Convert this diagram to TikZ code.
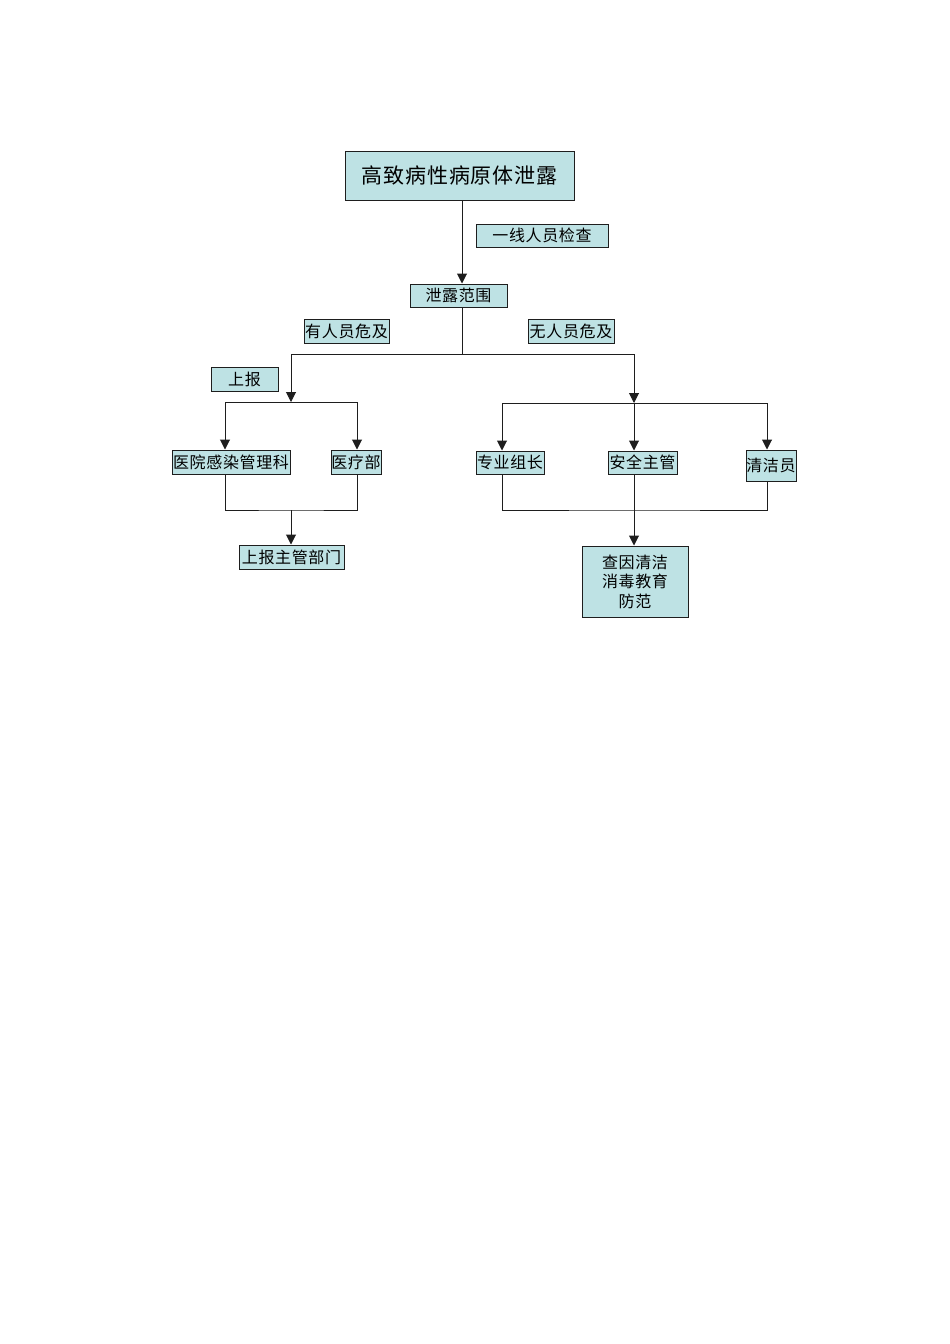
\documentclass[tikz,border=0pt]{standalone}
\usepackage{fontspec}
\usepackage{xcolor}
\usepackage{tikz}
\usetikzlibrary{arrows.meta,positioning}
\newfontfamily\cjk[LetterSpace=4]{Noto Sans CJK SC}
\definecolor{boxc}{RGB}{190,226,228}
\definecolor{linec}{RGB}{30,30,30}
\tikzset{
  box/.style={draw=linec,fill=boxc,line width=1pt,inner sep=0pt,anchor=center,
    font=\cjk\fontsize{16}{19.5}\selectfont,align=center},
  arr/.style={->,line width=1pt,draw=linec},
  ln/.style={line width=1pt,draw=linec}
}

\begin{document}
\begin{tikzpicture}[x=1pt,y=-1pt,>={Triangle[width=10pt,length=10pt]}]
\useasboundingbox (0,0) rectangle (950,1344);
% boxes
\node[box,minimum width=229pt,minimum height=49pt,font=\cjk\fontsize{21}{24}\selectfont] (title) at (459.5,175.5) {高致病性病原体泄露};
\node[box,minimum width=132pt,minimum height=23pt] (check) at (542,235.5) {一线人员检查};
\node[box,minimum width=97pt,minimum height=23pt] (scope) at (458.5,295.5) {泄露范围};
\node[box,minimum width=85pt,minimum height=24pt] (yes) at (346.5,331.5) {有人员危及};
\node[box,minimum width=86pt,minimum height=24pt] (no) at (571,331.5) {无人员危及};
\node[box,minimum width=67pt,minimum height=24pt] (report) at (244.5,379) {上报};
\node[box,minimum width=118pt,minimum height=24pt] (infect) at (231,462) {医院感染管理科};
\node[box,minimum width=50pt,minimum height=24pt] (medic) at (356,462) {医疗部};
\node[box,minimum width=105pt,minimum height=24pt] (dept) at (291.5,557) {上报主管部门};
\node[box,minimum width=68pt,minimum height=23pt] (leader) at (510,462.5) {专业组长};
\node[box,minimum width=69pt,minimum height=23pt] (safety) at (642.5,462.5) {安全主管};
\node[box,minimum width=50pt,minimum height=31pt] (cleaner) at (771,465.5) {清洁员};
\node[box,minimum width=106pt,minimum height=71pt] (action) at (635,581.5) {查因清洁\\消毒教育\\防范};
% junctions
\coordinate (split) at (462,354);
\coordinate (lsplit) at (291,354);
\coordinate (rsplit) at (634,354);
\coordinate (lbar) at (291,402);
\coordinate (lbarL) at (225,402);
\coordinate (lbarR) at (357,402);
\coordinate (ljoin) at (291,510);
\coordinate (rbar) at (634,403);
\coordinate (rbarL) at (502,403);
\coordinate (rbarR) at (767,403);
\coordinate (rjoin) at (634,510);
% top trunk
\draw[arr] (title.south -| split) -- (scope.north -| split);
\draw[ln] (scope.south -| split) -- (split);
\draw[ln] (lsplit) -- (rsplit);
% left branch
\draw[arr] (lsplit) -- (lbar);
\draw[ln] (lbarL) -- (lbarR);
\draw[arr] (lbarL) -- (infect.north -| lbarL);
\draw[arr] (lbarR) -- (medic.north -| lbarR);
\draw[ln] (infect.south -| lbarL) |- (ljoin) -| (medic.south -| lbarR);
\draw[arr] (ljoin) -- (dept.north -| ljoin);
% right branch
\draw[arr] (rsplit) -- (rbar);
\draw[ln] (rbarL) -- (rbarR);
\draw[arr] (rbarL) -- (leader.north -| rbarL);
\draw[arr] (rbar) -- (safety.north -| rbar);
\draw[arr] (rbarR) -- (cleaner.north -| rbarR);
\draw[ln] (leader.south -| rbarL) |- (rjoin) -| (cleaner.south -| rbarR);
\draw[arr] (safety.south -| rjoin) -- (action.north -| rjoin);
\end{tikzpicture}
\end{document}
